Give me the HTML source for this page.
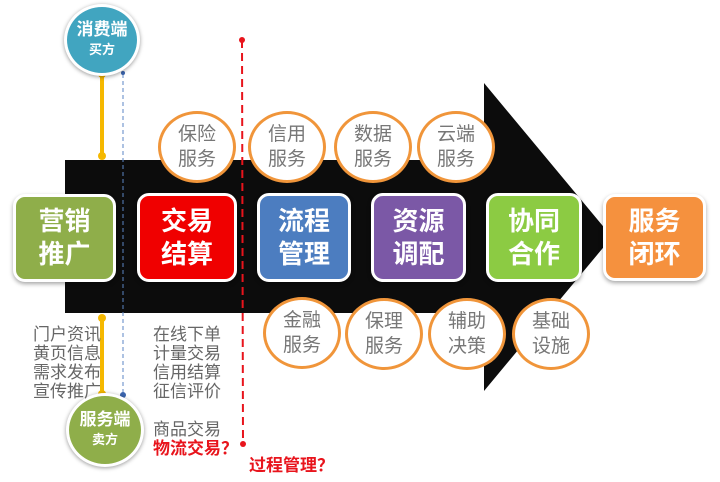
<!DOCTYPE html>
<html><head><meta charset="utf-8"><style>
body{margin:0;width:720px;height:482px;background:#fff;position:relative;overflow:hidden;font-family:"Liberation Sans","Noto Sans CJK SC",sans-serif}
.a{position:absolute}
.box{position:absolute;border:3px solid #fff;border-radius:12px;box-shadow:0 2px 4px rgba(0,0,0,.35);color:#fff;font-weight:bold;font-size:26px;line-height:33px;text-align:center;display:flex;align-items:center;justify-content:center;box-sizing:border-box}
.c{position:absolute;width:78px;height:72px;border:3px solid #f0953a;border-radius:50%;background:#fff;color:#777;font-size:19px;line-height:25px;text-align:center;display:flex;align-items:center;justify-content:center;box-sizing:border-box}
.t{position:absolute;color:#666;font-size:17px;line-height:19px}
.r{color:#e8141c;font-weight:bold}
.big{position:absolute;width:76px;height:72px;border-radius:50%;border:3px solid #fff;box-shadow:0 1px 4px rgba(0,0,0,.4);color:#fff;font-weight:bold;text-align:center;box-sizing:border-box;display:flex;flex-direction:column;justify-content:center;line-height:20px}
</style></head><body>
<svg class="a" style="left:0;top:0" width="720" height="482">
<polygon points="65,160 484,160 484,83 612,237 484,391 484,313 65,313" fill="#0c0c0c"/>
<line x1="102" y1="74" x2="102" y2="156" stroke="#f5b800" stroke-width="4"/>
<circle cx="102" cy="74" r="4" fill="#f5b800"/><circle cx="102" cy="156" r="4" fill="#f5b800"/>
<line x1="102" y1="318" x2="102" y2="394" stroke="#f5b800" stroke-width="4"/>
<circle cx="102" cy="318" r="4" fill="#f5b800"/><circle cx="102" cy="394" r="4" fill="#f5b800"/>
<line x1="123" y1="74" x2="123" y2="395" stroke="#5b86c4" stroke-width="1" stroke-dasharray="4,3"/>
<circle cx="123" cy="395" r="3" fill="#3a64ad"/><circle cx="123" cy="73" r="2" fill="#3a64ad"/>
<line x1="242" y1="40" x2="243" y2="444" stroke="#e8141c" stroke-width="2" stroke-dasharray="8,5"/>
<circle cx="242" cy="40" r="3" fill="#e8141c"/><circle cx="243" cy="444" r="3" fill="#e8141c"/>
</svg>
<div class="big" style="left:64px;top:4px;background:#41a5c0"><span style="font-size:17px">消费端</span><span style="font-size:13px">买方</span></div>
<div class="big" style="left:66px;top:393px;width:78px;height:74px;background:#8fae4a"><span style="font-size:17px">服务端</span><span style="font-size:13px">卖方</span></div>
<div class="box" style="left:13px;top:194px;width:103px;height:88px;background:#8fae4a">营销<br>推广</div>
<div class="box" style="left:137px;top:193px;width:100px;height:89px;background:#f00000">交易<br>结算</div>
<div class="box" style="left:257px;top:193px;width:94px;height:89px;background:#4c7dc0">流程<br>管理</div>
<div class="box" style="left:371px;top:193px;width:95px;height:89px;background:#7b58a6">资源<br>调配</div>
<div class="box" style="left:486px;top:193px;width:96px;height:89px;background:#8ccb43">协同<br>合作</div>
<div class="box" style="left:603px;top:194px;width:103px;height:87px;background:#f5913e">服务<br>闭环</div>
<div class="c" style="left:158px;top:111px">保险<br>服务</div>
<div class="c" style="left:248px;top:111px">信用<br>服务</div>
<div class="c" style="left:334px;top:111px">数据<br>服务</div>
<div class="c" style="left:417px;top:111px">云端<br>服务</div>
<div class="c" style="left:263px;top:297px">金融<br>服务</div>
<div class="c" style="left:345px;top:298px">保理<br>服务</div>
<div class="c" style="left:428px;top:298px">辅助<br>决策</div>
<div class="c" style="left:512px;top:298px">基础<br>设施</div>
<div class="t" style="left:33px;top:325px">门户资讯<br>黄页信息<br>需求发布<br>宣传推广</div>
<div class="t" style="left:153px;top:325px">在线下单<br>计量交易<br>信用结算<br>征信评价</div>
<div class="t" style="left:153px;top:420px">商品交易<br><span class="r">物流交易？</span></div>
<div class="t r" style="left:249px;top:456px">过程管理？</div>
</body></html>
